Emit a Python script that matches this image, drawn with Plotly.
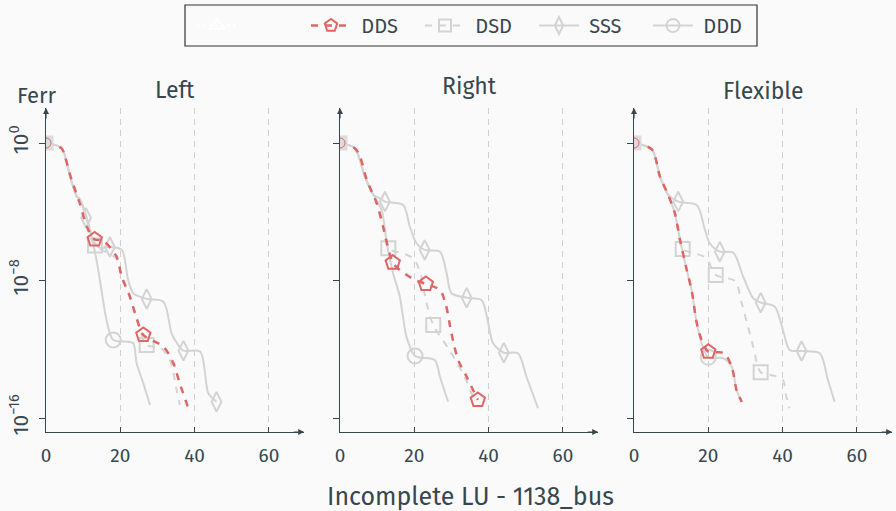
import plotly.graph_objects as go

W, H = 896, 511
BG = "#fafafa"
TXT = "#37474f"
RED = "#e06666"
GRAY = "#d3d3d3"
GRID = "#cfcfcf"
FONT = "Fira Sans, Noto Sans, sans-serif"

panel_titles = ["Left", "Right", "Flexible"]
series_names = ["DDS", "DSD", "SSS", "DDD"]
x_ticks = [0, 20, 40, 60]
y_tick_exp = [0, -8, -16]
y_tick_text = ["10<sup>0</sup>", "10<sup>−8</sup>", "10<sup>−16</sup>"]

# ---------- Left ----------
left_dds_x = [0, 4.2, 5.1, 6.9, 9.1, 11.0, 13.1, 15.4, 19.0, 20.4, 22.6, 24.4, 26.2, 31.6, 34.3, 36.0, 38.3]
left_dds_e = [0, -0.31, -0.8, -2.15, -3.51, -4.87, -5.61, -5.68, -6.61, -7.78, -8.94, -10.2, -11.17, -11.85, -12.82, -13.98, -15.43]
left_dds_m = [6, 12]
left_dsd_x = [0, 4.2, 6.5, 9.1, 11.0, 13.2, 18.8, 20.5, 22.6, 24.5, 27.1, 30.7, 33.3, 35.2, 36.0]
left_dsd_e = [0, -0.31, -1.9, -3.45, -4.8, -5.97, -6.69, -7.85, -9.0, -10.3, -11.75, -11.9, -12.6, -14.4, -15.24]
left_dsd_m = [5, 10]
left_sss_x = [0, 4.2, 6.5, 8.3, 9.1, 10.8, 12.7, 14.5, 17.2, 20.4, 22.1, 23.5, 27.1, 31.6, 33.8, 35.2, 37.0, 41.5, 43.7, 45.9]
left_sss_e = [0, -0.31, -1.96, -3.12, -3.26, -4.36, -5.64, -6.1, -6.05, -6.22, -7.97, -8.74, -9.07, -9.23, -11.07, -11.63, -12.08, -12.14, -14.56, -15.05]
left_sss_m = [5, 8, 12, 16, 19]
left_ddd_x = [0, 4.2, 6.5, 8.3, 9.1, 11.4, 13.6, 14.5, 16.3, 18.1, 22.1, 23.5, 24.4, 26.2, 28.0]
left_ddd_e = [0, -0.31, -1.96, -3.12, -3.26, -4.67, -6.81, -7.97, -10.3, -11.46, -11.56, -11.65, -12.82, -13.98, -15.24]
left_ddd_m = [9]

# ---------- Right ----------
right_dds_x = [0, 4.0, 5.4, 7.2, 9.9, 11.6, 14.2, 16.1, 20.2, 23.1, 26.9, 28.5, 30.0, 31.8, 34.1, 37.1]
right_dds_e = [0, -0.31, -0.8, -2.15, -3.51, -4.87, -6.96, -7.39, -7.97, -8.2, -8.55, -9.42, -11.07, -12.62, -13.6, -14.95]
right_dds_m = [6, 9, 15]
right_dsd_x = [0, 4.0, 5.4, 7.2, 9.9, 11.6, 13.0, 17.5, 19.9, 21.8, 23.1, 25.1, 29.0, 33.1, 35.8]
right_dsd_e = [0, -0.31, -0.8, -2.15, -3.51, -4.83, -6.13, -6.46, -6.75, -7.68, -9.13, -10.59, -11.9, -13.4, -14.78]
right_dsd_m = [6, 11]
right_sss_x = [0, 4.0, 6.7, 9.0, 10.8, 12.1, 17.0, 18.8, 20.6, 22.8, 26.9, 28.7, 30.0, 34.1, 38.1, 39.9, 41.2, 44.1, 47.9, 50.2, 53.3]
right_sss_e = [0, -0.31, -1.96, -3.02, -3.22, -3.41, -3.61, -4.87, -5.83, -6.22, -6.32, -7.58, -8.74, -9.0, -9.13, -10.49, -11.65, -12.2, -12.23, -13.6, -15.43]
right_sss_m = [5, 9, 13, 17]
right_ddd_x = [0, 4.0, 6.7, 9.0, 11.2, 12.6, 14.3, 16.1, 17.9, 20.2, 25.5, 26.9, 29.1]
right_ddd_e = [0, -0.31, -1.96, -3.02, -3.9, -5.83, -7.58, -8.94, -11.27, -12.39, -12.62, -13.6, -15.05]
right_ddd_m = [9]

# ---------- Flexible ----------
flex_dds_x = [0, 4.8, 7.0, 9.2, 11.0, 12.4, 14.2, 15.5, 16.9, 18.2, 20.0, 24.2, 26.3, 27.6, 29.0]
flex_dds_e = [0, -0.37, -1.96, -3.02, -4.09, -5.64, -7.39, -8.55, -10.49, -11.46, -12.14, -12.22, -13.01, -14.37, -15.07]
flex_dds_m = [10]
flex_dsd_x = [0, 4.8, 7.0, 9.2, 11.0, 13.1, 16.1, 19.4, 22.0, 27.2, 29.0, 30.7, 32.1, 34.1, 37.9, 40.1, 40.9, 41.8]
flex_dsd_e = [0, -0.37, -1.96, -3.02, -4.09, -6.17, -6.4, -6.69, -7.68, -8.03, -9.33, -10.69, -11.85, -13.34, -13.55, -13.79, -14.66, -15.43]
flex_dsd_m = [5, 8, 13]
flex_sss_x = [0, 4.8, 7.0, 9.2, 11.9, 16.9, 19.1, 20.4, 23.1, 26.7, 29.4, 32.1, 34.1, 37.9, 40.1, 41.9, 45.1, 50.0, 52.2, 54.0]
flex_sss_e = [0, -0.37, -1.96, -3.02, -3.41, -3.61, -5.06, -5.83, -6.32, -6.38, -7.78, -9.03, -9.29, -9.52, -10.88, -12.04, -12.1, -12.23, -13.79, -15.05]
flex_sss_m = [4, 8, 12, 16]
flex_ddd_x = [0, 4.8, 7.0, 9.2, 11.0, 12.4, 14.2, 15.5, 16.9, 18.2, 20.0, 24.0, 26.3, 27.6, 29.0]
flex_ddd_e = [0, -0.37, -1.96, -3.02, -4.09, -5.64, -7.39, -8.55, -10.49, -11.65, -12.47, -12.52, -13.01, -14.37, -15.05]
flex_ddd_m = [10]

data = [
    {"DDS": (left_dds_x, left_dds_e, left_dds_m), "DSD": (left_dsd_x, left_dsd_e, left_dsd_m),
     "SSS": (left_sss_x, left_sss_e, left_sss_m), "DDD": (left_ddd_x, left_ddd_e, left_ddd_m)},
    {"DDS": (right_dds_x, right_dds_e, right_dds_m), "DSD": (right_dsd_x, right_dsd_e, right_dsd_m),
     "SSS": (right_sss_x, right_sss_e, right_sss_m), "DDD": (right_ddd_x, right_ddd_e, right_ddd_m)},
    {"DDS": (flex_dds_x, flex_dds_e, flex_dds_m), "DSD": (flex_dsd_x, flex_dsd_e, flex_dsd_m),
     "SSS": (flex_sss_x, flex_sss_e, flex_sss_m), "DDD": (flex_ddd_x, flex_ddd_e, flex_ddd_m)},
]

style = {
    "DDS": dict(color=RED, dash="7px,7px", width=2.5, symbol="pentagon-open", size=15),
    "DSD": dict(color=GRAY, dash="7px,7px", width=2, symbol="square-open", size=14),
    "SSS": dict(color=GRAY, dash="solid", width=2, symbol="diamond-tall-open", size=14),
    "DDD": dict(color=GRAY, dash="solid", width=2, symbol="circle-open", size=15),
}

# geometry (pixels)
x0_px = [46, 340, 634]
px_per_unit = 3.715
x_max = 69.5
y_top_px, y_bot_px = 108, 432
y0_px, px_per_dec = 143, 17.19
y_lo = -(y_bot_px - y0_px) / px_per_dec
y_hi = (y0_px - y_top_px) / px_per_dec

fig = go.Figure()
draw_order = ["DSD", "SSS", "DDD", "DDS"]
for i in range(3):
    xa = "x" if i == 0 else f"x{i+1}"
    ya = "y" if i == 0 else f"y{i+1}"
    for name in draw_order:
        xs, es, ms = data[i][name]
        st = style[name]
        ys = [10 ** e for e in es]
        fig.add_trace(go.Scatter(
            x=xs, y=ys, mode="lines", xaxis=xa, yaxis=ya, showlegend=False,
            line=dict(color=st["color"], width=st["width"], dash=st["dash"], shape="spline", smoothing=0.8),
            hoverinfo="skip"))
        fig.add_trace(go.Scatter(
            x=[xs[k] for k in ms], y=[ys[k] for k in ms], mode="markers", xaxis=xa, yaxis=ya,
            showlegend=False,
            marker=dict(symbol=st["symbol"], size=st["size"], color=st["color"], line=dict(width=2)),
            hoverinfo="skip"))
    # start point
    xs, es, _ = data[i]["DSD"]
    fig.add_trace(go.Scatter(x=[xs[0]], y=[10 ** es[0]], mode="markers", xaxis=xa, yaxis=ya,
                             showlegend=False, hoverinfo="skip",
                             marker=dict(symbol="square", size=15, color="#dcdcdc")))
    xs, es, _ = data[i]["DDS"]
    fig.add_trace(go.Scatter(x=[xs[0]], y=[10 ** es[0]], mode="markers", xaxis=xa, yaxis=ya,
                             showlegend=False, hoverinfo="skip",
                             marker=dict(symbol="circle-open", size=10, color=RED, line=dict(width=1))))

# legend entries
NB = "\u00a0"
fig.add_trace(go.Scatter(x=[None], y=[None], mode="lines+markers", name=NB,
                         line=dict(color="white", width=2, dash="dot"),
                         marker=dict(symbol="triangle-up-open", size=12, color="white", line=dict(width=2))))
for name in series_names:
    st = style[name]
    fig.add_trace(go.Scatter(x=[None], y=[None], mode="lines+markers", name=NB + name,
                             line=dict(color=st["color"], width=st["width"], dash=st["dash"]),
                             marker=dict(symbol=st["symbol"], size=st["size"] - 2, color=st["color"], line=dict(width=2))))

layout = dict(
    width=W, height=H, paper_bgcolor=BG, plot_bgcolor=BG,
    margin=dict(l=0, r=0, t=0, b=0, autoexpand=False),
    font=dict(family=FONT, color=TXT, size=18),
    showlegend=True,
    legend=dict(orientation="h", x=192 / W, xanchor="left", y=1 - 25.5 / H, yanchor="middle",
                borderwidth=0, bgcolor="rgba(0,0,0,0)", font=dict(size=20, color=TXT),
                entrywidth=59, entrywidthmode="pixels", itemwidth=40, tracegroupgap=0),
)
ydom = [1 - y_bot_px / H, 1 - y_top_px / H]
annotations = []
shapes = []
for i in range(3):
    sfx = "" if i == 0 else str(i + 1)
    d0 = x0_px[i] / W
    d1 = (x0_px[i] + x_max * px_per_unit) / W
    layout["xaxis" + sfx] = dict(
        domain=[d0, d1], range=[0, x_max], tickvals=x_ticks, ticks="inside", ticklen=5,
        tickcolor=TXT, showline=True, linecolor=TXT, linewidth=1.2, automargin=False,
        showgrid=True, gridcolor=GRID, griddash="6px,5px", gridwidth=1, zeroline=False,
        anchor="y" + sfx, tickfont=dict(size=19, color=TXT), ticklabelstandoff=6)
    layout["yaxis" + sfx] = dict(
        domain=ydom, type="log", range=[y_lo, y_hi], automargin=False,
        tickvals=[10 ** e for e in y_tick_exp], ticktext=y_tick_text, showticklabels=(i == 0),
        tickangle=-90, ticks="outside", ticklen=6, tickcolor=TXT, ticklabelstandoff=3,
        showline=True, linecolor=TXT, linewidth=1.2, showgrid=False, zeroline=False,
        anchor="x" + sfx, tickfont=dict(size=21, color=TXT))
    xr = "x" + sfx
    yr = "y" + sfx
    annotations.append(dict(x=x_max, y=y_lo, xref=xr, yref=yr, ax=-12, ay=0, text="", showarrow=True,
                            arrowhead=2, arrowsize=1, arrowwidth=1.2, arrowcolor=TXT))
    annotations.append(dict(x=0, y=y_hi, xref=xr, yref=yr, ax=0, ay=12, text="", showarrow=True,
                            arrowhead=2, arrowsize=1, arrowwidth=1.2, arrowcolor=TXT))
title_y_px = [90, 86, 91]
for i, t in enumerate(panel_titles):
    cx = x0_px[i] + x_max * px_per_unit / 2
    annotations.append(dict(x=cx / W, y=1 - title_y_px[i] / H, xref="paper", yref="paper", text=t,
                            showarrow=False, font=dict(size=23, color=TXT), xanchor="center", yanchor="middle"))
annotations.append(dict(x=37 / W, y=1 - 95 / H, xref="paper", yref="paper", text="Ferr", showarrow=False,
                        font=dict(size=22, color=TXT), xanchor="center", yanchor="middle"))
annotations.append(dict(x=470 / W, y=1 - 497 / H, xref="paper", yref="paper", text="Incomplete LU - 1138_bus",
                        showarrow=False, font=dict(size=25, color=TXT), xanchor="center", yanchor="middle"))
for e in y_tick_exp:
    shapes.append(dict(type="line", xref="paper", yref="y", x0=x0_px[0] / W, x1=1, y0=e, y1=e,
                       line=dict(color=GRID, width=1, dash="6px,5px"), layer="below"))
# legend frame
shapes.append(dict(type="rect", xref="paper", yref="paper", x0=185 / W, x1=757 / W, y0=1 - 46 / H, y1=1 - 5 / H,
                   line=dict(color="#333333", width=1.2), fillcolor="rgba(0,0,0,0)", layer="above"))
layout["annotations"] = annotations
layout["shapes"] = shapes
fig.update_layout(**layout)
fig.write_html("out.html", config={"displayModeBar": False},
               post_script="document.body.style.margin='0';document.body.style.overflow='hidden';")
